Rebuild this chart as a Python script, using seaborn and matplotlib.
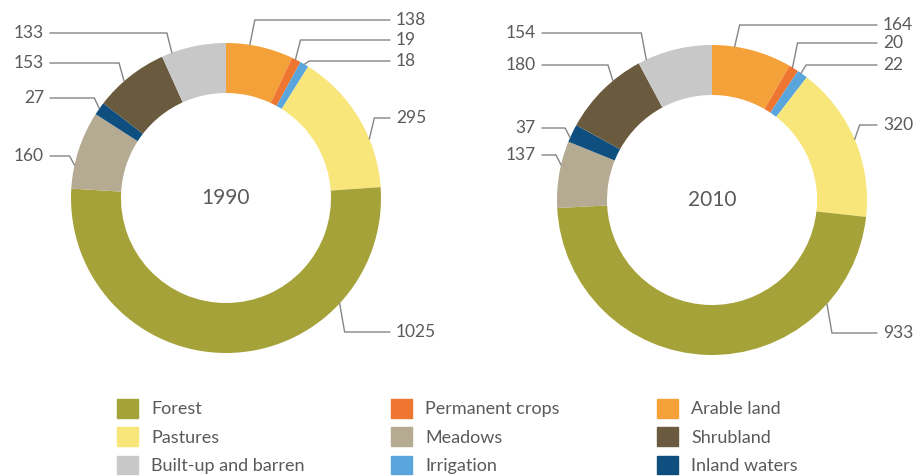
"""Land cover donuts, 1990 vs 2010 (values in 1000 ha)."""

import matplotlib

matplotlib.use("Agg")
import matplotlib.patches as mpatches  # noqa: E402
import matplotlib.pyplot as plt  # noqa: E402
import numpy as np  # noqa: E402
import seaborn as sns  # noqa: E402
from matplotlib.legend import Legend  # noqa: E402

# clockwise from 12 o'clock
categories = [
    "Arable land",
    "Permanent crops",
    "Irrigation",
    "Pastures",
    "Forest",
    "Meadows",
    "Inland waters",
    "Shrubland",
    "Built-up and barren",
]
values_1990 = [138, 19, 18, 295, 1025, 160, 27, 153, 133]
values_2010 = [164, 20, 22, 320, 933, 137, 37, 180, 154]
years = ["1990", "2010"]

palette = {
    "Forest": "#a6a23a",
    "Pastures": "#f8e67a",
    "Built-up and barren": "#c8c8c8",
    "Permanent crops": "#ee7630",
    "Meadows": "#b5aa92",
    "Irrigation": "#5aa5dc",
    "Arable land": "#f5a13a",
    "Shrubland": "#6b5b3e",
    "Inland waters": "#0e4f7f",
}
legend_columns = [
    ["Forest", "Pastures", "Built-up and barren"],
    ["Permanent crops", "Meadows", "Irrigation"],
    ["Arable land", "Shrubland", "Inland waters"],
]

W, H = 917, 476
RADIUS = 155
RING = 50
TEXT = "#5a5a5a"
LINE = "#858585"

# leader layout (pixel rows from top), one entry per category
layout = [
    dict(center=(226, 198), right_x=390, left_x=50,
         anchor=[0.35, 0.4, 0.5, 0.66, 0.25, 0.3, 0.5, 0.4, 0.16],
         label_y=[20, 40, 61, 118, 332, 156, 98, 63, 33]),
    dict(center=(712, 200), right_x=877, left_x=542,
         anchor=[0.28, 0.35, 0.35, 0.5, 0.21, 0.64, 0.24, 0.65, 0.11],
         label_y=[25, 43, 65, 125, 333, 155, 128, 65, 33]),
]


def main() -> None:
    sns.set_theme(style="white")
    plt.rcParams["font.family"] = ["Lato", "DejaVu Sans"]

    fig = plt.figure(figsize=(W / 100, H / 100), dpi=100)
    fig.patch.set_facecolor("white")
    ax = fig.add_axes([0, 0, 1, 1])

    for year, vals, lay in zip(years, [values_1990, values_2010], layout):
        cx, cy = lay["center"][0], H - lay["center"][1]
        wedges, _ = ax.pie(
            vals,
            colors=[palette[c] for c in categories],
            startangle=90,
            counterclock=False,
            center=(cx, cy),
            radius=RADIUS,
            wedgeprops=dict(width=RING, linewidth=0),
        )
        ax.text(cx, cy, year, ha="center", va="center", fontsize=15, color=TEXT)

        for w, val, frac, ly in zip(wedges, vals, lay["anchor"], lay["label_y"]):
            theta = np.deg2rad(w.theta2 - frac * (w.theta2 - w.theta1))
            x0 = cx + RADIUS * np.cos(theta)
            y0 = cy + RADIUS * np.sin(theta)
            right = x0 > cx
            sign = 1 if right else -1
            ye = H - ly
            xend = lay["right_x"] if right else lay["left_x"]
            ax.plot([x0, x0 + 5 * sign, xend], [y0, ye, ye],
                    color=LINE, lw=1.0, solid_joinstyle="miter")
            ax.text(xend + 6 * sign, ye, str(val),
                    ha="left" if right else "right", va="center",
                    fontsize=12.5, color=TEXT)

    ax.set_xlim(0, W)
    ax.set_ylim(0, H)
    ax.set_aspect("equal")
    ax.axis("off")

    for col_x, names in zip([117, 391, 657], legend_columns):
        handles = [mpatches.Patch(color=palette[n], label=n) for n in names]
        leg = Legend(
            ax,
            handles,
            names,
            loc="upper left",
            bbox_to_anchor=(col_x, H - 399),
            bbox_transform=ax.transData,
            frameon=False,
            fontsize=13,
            labelcolor=TEXT,
            handlelength=1.15,
            handleheight=1.2,
            handletextpad=0.75,
            labelspacing=0.55,
            borderpad=0,
            borderaxespad=0,
        )
        ax.add_artist(leg)

    fig.savefig("out.png", dpi=100, facecolor="white")


if __name__ == "__main__":
    main()
